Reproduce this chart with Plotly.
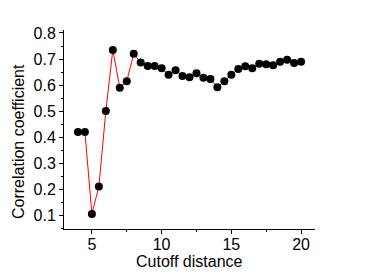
import plotly.graph_objects as go

cutoff = [4, 4.5, 5, 5.5, 6, 6.5, 7, 7.5, 8, 8.5, 9, 9.5, 10, 10.5, 11, 11.5, 12,
          12.5, 13, 13.5, 14, 14.5, 15, 15.5, 16, 16.5, 17, 17.5, 18, 18.5, 19, 19.5, 20]
corr = [0.42, 0.42, 0.105, 0.21, 0.50, 0.735, 0.59, 0.615, 0.72, 0.687, 0.673, 0.673,
        0.665, 0.64, 0.657, 0.635, 0.63, 0.645, 0.628, 0.623, 0.592, 0.615, 0.64, 0.662,
        0.672, 0.665, 0.682, 0.68, 0.676, 0.69, 0.697, 0.685, 0.69]

x_ticks = [5, 10, 15, 20]
y_ticks = [0.1, 0.2, 0.3, 0.4, 0.5, 0.6, 0.7, 0.8]
x_title = "Cutoff distance"
y_title = "Correlation coefficient"

fig = go.Figure()
fig.add_trace(go.Scatter(
    x=cutoff, y=corr, mode="lines+markers",
    line=dict(color="red", width=1),
    marker=dict(color="black", size=8),
    showlegend=False,
))

font = dict(family="Liberation Sans, Arial, sans-serif", size=16, color="black")
fig.update_layout(
    width=366, height=274,
    margin=dict(l=64, r=51, t=30, b=45, autoexpand=False),
    paper_bgcolor="white", plot_bgcolor="white",
    font=font,
)
fig.update_xaxes(
    range=[3, 21], tickvals=x_ticks, ticktext=[str(v) for v in x_ticks],
    showline=True, linecolor="black", linewidth=1, showgrid=False, zeroline=False,
    ticks="outside", ticklen=4, tickcolor="black", ticklabelstandoff=-3,
    minor=dict(ticks="outside", ticklen=2, dtick=2.5, tick0=2.5, tickcolor="black"),
    tickfont=font, automargin=False,
)
fig.update_yaxes(
    range=[0.047, 0.8115], tickvals=y_ticks, ticktext=[f"{v:.1f}" for v in y_ticks],
    showline=True, linecolor="black", linewidth=1, showgrid=False, zeroline=False,
    ticks="outside", ticklen=4, tickcolor="black",
    minor=dict(ticks="outside", ticklen=2, dtick=0.05, tick0=0.05, tickcolor="black"),
    tickfont=font, automargin=False,
)
fig.add_annotation(text=x_title, xref="paper", yref="paper", x=0.5, y=-0.165,
                   xanchor="center", yanchor="middle", showarrow=False, font=font)
fig.add_annotation(text=y_title, xref="paper", yref="paper", x=-0.181, y=0.44,
                   xanchor="center", yanchor="middle", showarrow=False, font=font,
                   textangle=-90)

fig.write_html("out.html", config={"displayModeBar": False},
               post_script="document.body.style.margin='0';")
